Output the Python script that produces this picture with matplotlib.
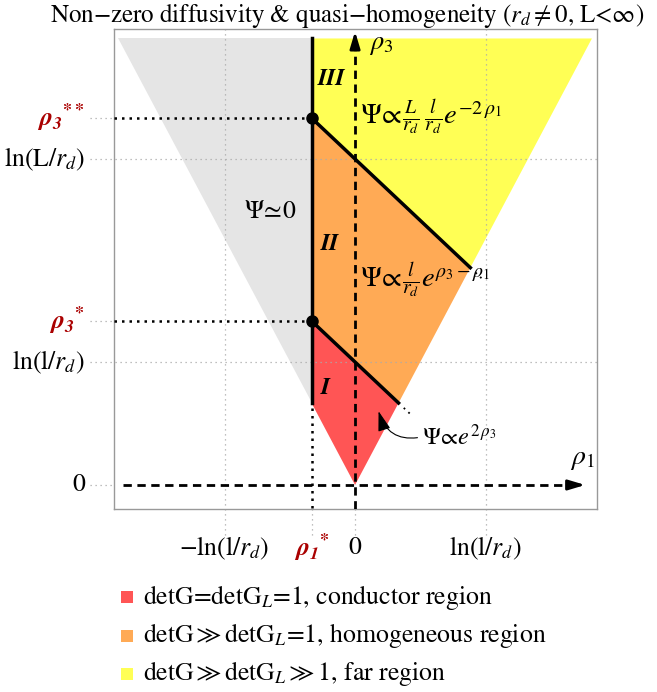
import numpy as np
import matplotlib
matplotlib.use("Agg")
import matplotlib.pyplot as plt
from matplotlib.patches import Polygon

plt.rcParams['font.family'] = ['STIXGeneral', 'DejaVu Serif']
plt.rcParams['mathtext.fontset'] = 'stix'

# schematic values (in units of ln(l/r_d))
ln_l = 1.0            # ln(l/r_d)
ln_L = 2.65           # ln(L/r_d)
cone_slope = 2.0      # edges of the light cone: rho3 = 2|rho1|
cone_top = 3.63
rho1_star = -ln_l / 3.0
rho3_star = ln_l - rho1_star
rho3_2star = ln_L - rho1_star

region_colors = ['#FF5555', '#FFAA55', '#FFFF55']
region_labels = [r'detG=detG$_L$=1, conductor region',
                 r'detG$\gg$detG$_L$=1, homogeneous region',
                 r'detG$\gg$detG$_L$$\gg$1, far region']
ytick_vals = [0, ln_l, rho3_star, ln_L, rho3_2star]
ytick_text = ['0', r'ln(l/$r_d$)', r'$\mathbfit{\rho_3}^{\mathbf{*}}$', r'ln(L/$r_d$)',
              r'$\mathbfit{\rho_3}^{\mathbf{**}}$']
xtick_vals = [-ln_l, rho1_star, 0, ln_l]
xtick_text = [r'$-$ln(l/$r_d$)', r'$\mathbfit{\rho_1}^{\mathbf{*}}$', '0', r'ln(l/$r_d$)']
red_ticks = [rho1_star, rho3_star, rho3_2star]

FS = 18.5

fig = plt.figure(figsize=(6.57, 6.92), dpi=100)
ax = fig.add_axes([0.1735, 0.2645, 0.7352, 0.6936])
ax.set_xlim(-1.847, 1.854)
ax.set_ylim(-0.195, 3.707)
ax.set_xticks([])
ax.set_yticks([])
for s in ax.spines.values():
    s.set_color('#999999')
    s.set_linewidth(1.0)

x1 = ln_l / (cone_slope + 1)   # end of region I boundary on the cone edge
x2 = ln_L / (cone_slope + 1)   # end of region II boundary
xt = cone_top / cone_slope

gray = [(-xt, cone_top), (rho1_star, cone_top), (rho1_star, -cone_slope * rho1_star)]
red = [(rho1_star, -cone_slope * rho1_star), (0, 0), (x1, cone_slope * x1), (rho1_star, rho3_star)]
orange = [(rho1_star, rho3_star), (x1, cone_slope * x1), (x2, cone_slope * x2), (rho1_star, rho3_2star)]
yellow = [(rho1_star, rho3_2star), (x2, cone_slope * x2), (xt, cone_top), (rho1_star, cone_top)]
ax.add_patch(Polygon(gray, closed=True, fc='#E5E5E5', ec='none', zorder=1))
for poly, c in zip([red, orange, yellow], region_colors):
    ax.add_patch(Polygon(poly, closed=True, fc=c, ec='none', zorder=1))

# grid lines, running out of the frame to the tick labels
gkw = dict(color='#AAAAAA', lw=0.9, ls=(0, (1, 3)), clip_on=False, zorder=2)
x_out, y_out = -2.03, -0.407
for v in [ln_l, ln_L]:
    ax.plot([x_out, 1.854], [v, v], **gkw)
for v in [0, rho3_star, rho3_2star]:
    ax.plot([x_out, -1.847], [v, v], **gkw)
for v in [-ln_l, ln_l]:
    ax.plot([v, v], [y_out, 3.707], **gkw)
for v in [rho1_star, 0]:
    ax.plot([v, v], [y_out, -0.195], **gkw)

# axes of the (rho1, rho3) plane
dkw = dict(color='black', lw=2.0, ls=(0, (3, 2)), zorder=4)
ax.plot([-1.78, 1.66], [0, 0], **dkw)
ax.plot([0, 0], [-0.195, 3.55], **dkw)
ax.annotate('', xy=(1.785, 0), xytext=(1.62, 0),
            arrowprops=dict(arrowstyle='-|>,head_length=1.0,head_width=0.3', color='black', lw=2), zorder=5)
ax.annotate('', xy=(0, 3.71), xytext=(0, 3.52), annotation_clip=False,
            arrowprops=dict(arrowstyle='-|>,head_length=1.0,head_width=0.3', color='black', lw=2), zorder=5)
ax.text(1.74, 0.21, r'$\rho_1$', fontsize=20, ha='center', va='center')
ax.text(0.2, 3.58, r'$\rho_3$', fontsize=19, ha='center', va='center')

# region boundaries
ax.plot([rho1_star, rho1_star], [-cone_slope * rho1_star, cone_top], color='black', lw=2.5, zorder=5)
ax.plot([rho1_star, x1], [rho3_star, cone_slope * x1], color='black', lw=2.5, zorder=5)
ax.plot([rho1_star, x2], [rho3_2star, cone_slope * x2], color='black', lw=2.5, zorder=5)
for xe in [x1, x2]:
    ax.plot([xe + 0.04, xe + 0.11], [cone_slope * xe - 0.04, cone_slope * xe - 0.11],
            color='black', lw=1.3, ls=(0, (1, 2.5)), zorder=5)
bkw = dict(color='black', lw=1.8, ls=(0, (1, 2)), zorder=4)
ax.plot([-1.847, rho1_star], [rho3_star, rho3_star], **bkw)
ax.plot([-1.847, rho1_star], [rho3_2star, rho3_2star], **bkw)
ax.plot([rho1_star, rho1_star], [-0.185, -cone_slope * rho1_star], **bkw)
ax.plot([rho1_star, rho1_star], [rho3_star, rho3_2star], 'o', color='black', ms=8, zorder=6)

# region labels and asymptotics
ax.text(-0.18, 3.3, 'III', fontsize=17, fontweight='bold', fontstyle='italic', ha='center', va='center')
ax.text(-0.19, 1.96, 'II', fontsize=17, fontweight='bold', fontstyle='italic', ha='center', va='center')
ax.text(-0.23, 0.79, 'I', fontsize=17, fontweight='bold', fontstyle='italic', ha='center', va='center')
ax.text(-0.65, 2.22, r'$\Psi\!\simeq\!0$', fontsize=FS, ha='center', va='center')
ax.text(0.04, 2.99, r'$\Psi\!\propto\!\frac{L}{r_d}\,\frac{l}{r_d}e^{-2\,\rho_1}$', fontsize=20.5,
        ha='left', va='center')
ax.text(0.04, 1.66, r'$\Psi\!\propto\!\frac{l}{r_d}e^{\rho_3-\rho_1}$', fontsize=20.5, ha='left', va='center')
ax.annotate(r'$\Psi\!\propto\!e^{2\,\rho_3}$', xy=(0.18, 0.6), xytext=(0.51, 0.39),
            fontsize=17.5, ha='left', va='center',
            arrowprops=dict(arrowstyle='-|>,head_length=0.7,head_width=0.22', color='black', lw=0.8,
                            connectionstyle='arc3,rad=-0.45', relpos=(0, 0.5), shrinkA=1, shrinkB=0))

# tick labels
for v, t in zip(ytick_vals, ytick_text):
    red_tick = v in red_ticks
    ax.text(-2.07, v, t, fontsize=FS, ha='right', va='center', clip_on=False,
            color='#AA0000' if red_tick else 'black')
for v, t in zip(xtick_vals, xtick_text):
    red_tick = v in red_ticks
    ax.text(v, -0.512, t, fontsize=FS, ha='center', va='center', clip_on=False,
            color='#AA0000' if red_tick else 'black')

fig.text(347 / 657, 0.978, r'Non$-$zero diffusivity & quasi$-$homogeneity ($r_d$$\neq$0, L<$\infty$)',
         fontsize=18, ha='center', va='center')

# legend
for i, (c, t) in enumerate(zip(region_colors, region_labels)):
    y = 1 - (597 + 38.5 * i) / 692
    fig.patches.append(plt.Rectangle((121 / 657, y - 6 / 692), 12 / 657, 12 / 692,
                                     transform=fig.transFigure, fc=c, ec='none'))
    fig.text(143 / 657, y, t, fontsize=FS, ha='left', va='center')

fig.savefig('out.png', dpi=100)
